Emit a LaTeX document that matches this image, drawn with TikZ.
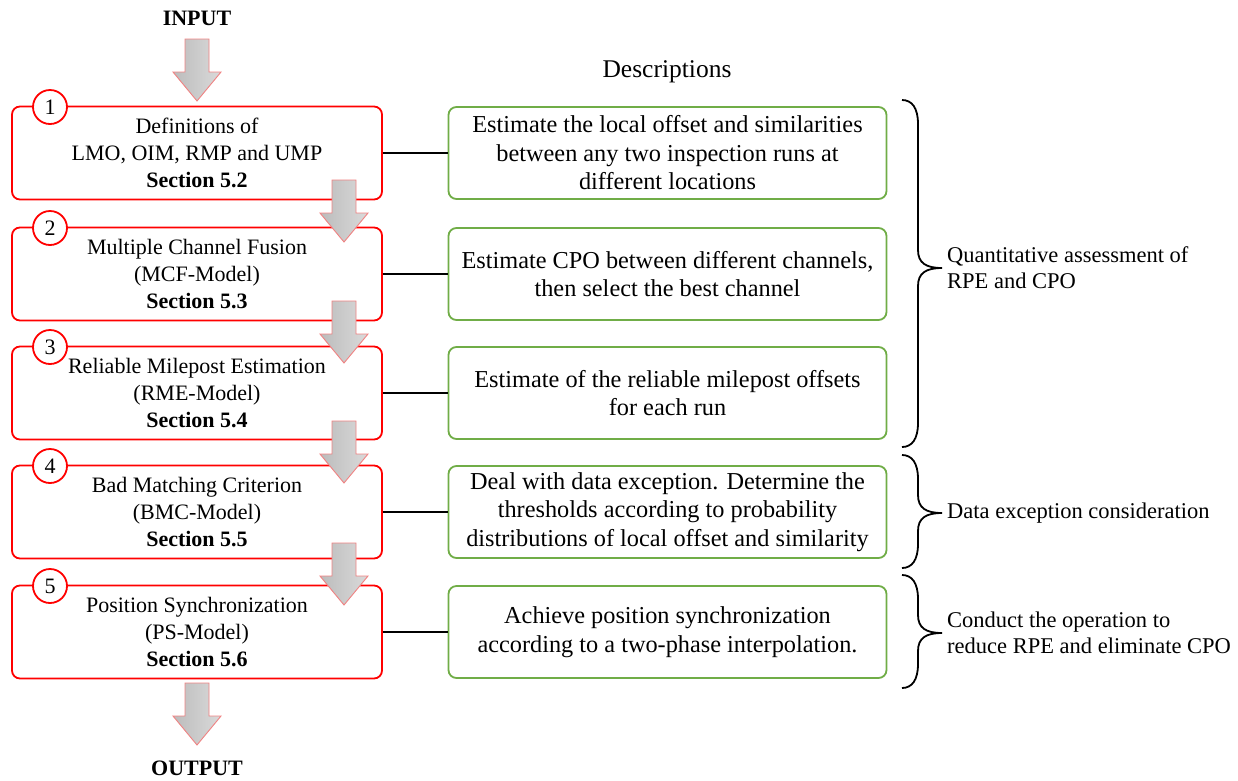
\documentclass[tikz,border=0pt]{standalone}
\usepackage{fontspec}
\setmainfont{Liberation Serif}
\begin{document}
\begin{tikzpicture}[x=1pt,y=-1pt,
  every node/.style={font=\fontsize{22}{27}\selectfont},
  stepbox/.style={draw=red, line width=1.8pt, rounded corners=8pt, fill=white,
    minimum width=370pt, minimum height=93pt, inner sep=0pt, align=center},
  descbox/.style={draw={rgb,255:red,112;green,173;blue,71}, line width=1.8pt, rounded corners=8pt,
    minimum width=438pt, minimum height=92pt, inner sep=0pt, align=center,
    font=\fontsize{24.3}{28.5}\selectfont},
  numcirc/.style={circle, draw=red, line width=1.8pt, fill=white, minimum size=34pt, inner sep=0pt},
  link/.style={line width=1.8pt, black},
  bracepath/.style={line width=1.8pt, black},
  bracelabel/.style={anchor=west, align=left, inner sep=0pt, font=\fontsize{22.5}{26}\selectfont},
  flowarrow/.style={draw={rgb,255:red,240;green,130;blue,130}, line width=0.9pt,
    left color={rgb,255:red,188;green,188;blue,188}, right color={rgb,255:red,218;green,218;blue,218}},
  blockarrow/.pic={
    \path[flowarrow] (-12,0) -- (12,0) -- (12,33) -- (24,33) -- (0,62) -- (-24,33) -- (-12,33) -- cycle;
  }
]
\useasboundingbox (0,0) rectangle (1238,780);

% input / output labels
\node[font=\fontsize{22}{27}\selectfont\bfseries] (in) at (197,18) {INPUT};
\node[font=\fontsize{22}{27}\selectfont\bfseries] (out) at (197,768) {OUTPUT};
\node[font=\fontsize{25.5}{30}\selectfont] (desc) at (667,72) {Descriptions};

% processing steps
\node[stepbox] (b1) at (197,153) {Definitions of\\LMO, OIM, RMP and UMP\\\textbf{Section 5.2}};
\node[stepbox] (b2) at (197,274) {Multiple Channel Fusion\\(MCF-Model)\\\textbf{Section 5.3}};
\node[stepbox] (b3) at (197,393) {Reliable Milepost Estimation\\(RME-Model)\\\textbf{Section 5.4}};
\node[stepbox] (b4) at (197,512) {Bad Matching Criterion\\(BMC-Model)\\\textbf{Section 5.5}};
\node[stepbox] (b5) at (197,632) {Position Synchronization\\(PS-Model)\\\textbf{Section 5.6}};

% step numbers
\node[numcirc] (n1) at (50,107) {1};
\node[numcirc] (n2) at (50,228) {2};
\node[numcirc] (n3) at (50,347) {3};
\node[numcirc] (n4) at (50,466) {4};
\node[numcirc] (n5) at (50,586) {5};

% descriptions
\node[descbox] (g1) at (667.5,153) {Estimate the local offset and similarities\\between any two inspection runs at\\different locations};
\node[descbox] (g2) at (667.5,274) {Estimate CPO between different channels,\\then select the best channel};
\node[descbox] (g3) at (667.5,393) {Estimate of the reliable milepost offsets\\for each run};
\node[descbox] (g4) at (667.5,512) {Deal with data exception. Determine the\\thresholds according to probability\\distributions of local offset and similarity};
\node[descbox] (g5) at (667.5,632) {Achieve position synchronization\\according to a two-phase interpolation.};

% links from steps to descriptions
\foreach \i in {1,...,5} { \draw[link] (b\i.east) -- (g\i.west); }

% flow arrows
\pic at (197,39) {blockarrow};
\pic at (344,180) {blockarrow};
\pic at (344,301) {blockarrow};
\pic at (344,421) {blockarrow};
\pic at (344,543) {blockarrow};
\pic at (197,683) {blockarrow};

% braces grouping the descriptions
\foreach \t/\m/\b in {100/268/447, 455/513/568, 575/633/688} {
  \draw[bracepath] (902,\t) .. controls (912,\t) and (918,\t+8) .. (918,\t+24)
    -- (918,\m-18) .. controls (918,\m-5) and (926,\m) .. (942,\m)
    .. controls (926,\m) and (918,\m+5) .. (918,\m+18)
    -- (918,\b-24) .. controls (918,\b-8) and (912,\b) .. (902,\b);
}
\node[bracelabel] (l1) at (947,268) {Quantitative assessment of\\RPE and CPO};
\node[bracelabel] (l2) at (947,513) {Data exception consideration};
\node[bracelabel] (l3) at (947,633) {Conduct the operation to\\reduce RPE and eliminate CPO};
\end{tikzpicture}
\end{document}
